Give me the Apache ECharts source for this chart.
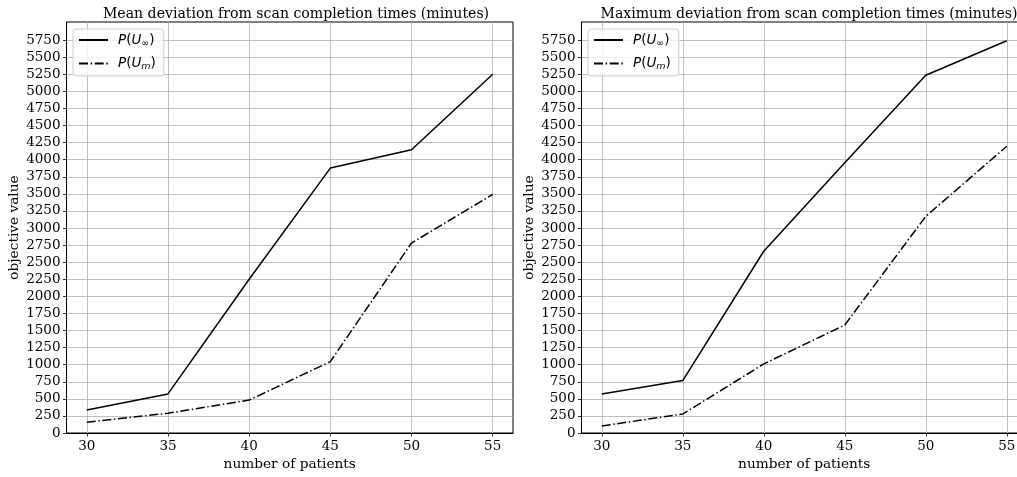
<!DOCTYPE html>
<html>
<head>
<meta charset="utf-8">
<script src="https://cdn.jsdelivr.net/npm/echarts@6/dist/echarts.min.js"></script>
<style>html,body{margin:0;padding:0;background:#fff}#c{width:1017px;height:477px}</style>
</head>
<body>
<div id="c"></div>
<script>
const patients = [30, 35, 40, 45, 50, 55];
const meanUinf = [337, 572, 2250, 3877, 4145, 5250];
const meanUm   = [157, 289, 482, 1045, 2780, 3492];
const maxUinf  = [571, 767, 2660, 3955, 5236, 5740];
const maxUm    = [103, 278, 1011, 1580, 3170, 4196];
const xTicks = [30, 35, 40, 45, 50, 55];
const yTicks = [0, 250, 500, 750, 1000, 1250, 1500, 1750, 2000, 2250, 2500, 2750, 3000, 3250, 3500, 3750, 4000, 4250, 4500, 4750, 5000, 5250, 5500, 5750];
const titles = ['Mean deviation from scan completion times (minutes)', 'Maximum deviation from scan completion times (minutes)'];
const xName = 'number of patients';
const yName = 'objective value';

const serif = 'DejaVu Serif';
const chart = echarts.init(document.getElementById('c'));

const grids = [
  {left: 66.5, width: 446.5, top: 22, bottom: 44},
  {left: 581.5, width: 445.5, top: 22, bottom: 44}
];
function pairs(ys) { return patients.map((x, i) => [x, ys[i]]); }

const rich = {
  i: {fontFamily: 'DejaVu Sans', fontStyle: 'italic', fontSize: 13.5, color: '#000'},
  n: {fontFamily: 'DejaVu Sans', fontSize: 13.5, color: '#000'},
  s: {fontFamily: 'DejaVu Sans', fontSize: 9.5, color: '#000', padding: [7, 0, 0, 0]},
  si: {fontFamily: 'DejaVu Sans', fontStyle: 'italic', fontSize: 9.5, color: '#000', padding: [7, 0, 0, 0]}
};
const labelFmt = {
  'P(U∞)': '{i|P}{n|(}{i|U}{s|∞}{n|)}',
  'P(Um)': '{i|P}{n|(}{i|U}{si|m}{n|)}'
};

const xAxes = [], yAxes = [], series = [], legends = [], titleArr = [];
grids.forEach((g, k) => {
  xAxes.push({
    type: 'value', gridIndex: k, min: 28.75, max: 56.25,
    name: xName, nameLocation: 'middle', nameGap: 23,
    nameTextStyle: {fontFamily: serif, fontSize: 13.7, color: '#000'},
    axisLine: {show: true, lineStyle: {color: '#000', width: 1}},
    axisTick: {show: true, inside: false, length: 3.5, customValues: xTicks, lineStyle: {color: '#000', width: 0.8}},
    axisLabel: {customValues: xTicks, fontFamily: serif, fontSize: 13.5, color: '#000', margin: 6, formatter: v => String(v)},
    splitLine: {show: true, lineStyle: {color: '#b0b0b0', width: 0.8}}
  });
  yAxes.push({
    type: 'value', gridIndex: k, min: 0, max: 6015,
    name: yName, nameLocation: 'middle', nameGap: 45, nameRotate: 90,
    nameTextStyle: {fontFamily: serif, fontSize: 13.7, color: '#000'},
    axisLine: {show: true, lineStyle: {color: '#000', width: 1}},
    axisTick: {show: true, inside: false, length: 3.5, customValues: yTicks, lineStyle: {color: '#000', width: 0.8}},
    axisLabel: {customValues: yTicks, fontFamily: serif, fontSize: 13.5, color: '#000', margin: 6, formatter: v => String(v)},
    splitLine: {show: true, lineStyle: {color: '#b0b0b0', width: 0.8}}
  });
  const a = k === 0 ? meanUinf : maxUinf;
  const b = k === 0 ? meanUm : maxUm;
  series.push({
    name: 'P(U∞)', type: 'line', xAxisIndex: k, yAxisIndex: k, data: pairs(a),
    symbol: 'none', lineStyle: {color: '#000', width: 1.5, type: 'solid'}, itemStyle: {color: '#000'}, z: 3
  });
  series.push({
    name: 'P(Um)', type: 'line', xAxisIndex: k, yAxisIndex: k, data: pairs(b),
    symbol: 'none', lineStyle: {color: '#000', width: 1.5, type: [9, 2.6, 1.5, 2.6]}, itemStyle: {color: '#000'}, z: 3
  });
  legends.push({
    left: g.left + 6.5, top: 29, orient: 'vertical',
    data: ['P(U∞)', 'P(Um)'],
    itemWidth: 29, itemHeight: 12, itemGap: 8,
    padding: [4, 8, 4, 5],
    itemStyle: {opacity: 0},
    backgroundColor: 'rgba(255,255,255,0.8)', borderColor: '#cccccc', borderWidth: 1, borderRadius: 3,
    formatter: n => labelFmt[n],
    textStyle: {rich: rich, padding: [0, 0, 0, 5]},
    selectedMode: false
  });
  titleArr.push({
    text: titles[k], left: (k === 0 ? 291 : 804), top: 2, textAlign: 'center',
    textStyle: {fontFamily: serif, fontSize: 14.1, fontWeight: 'normal', color: '#000'}
  });
});

chart.setOption({
  animation: false,
  title: titleArr,
  grid: grids.map(g => Object.assign({show: true, borderColor: '#000', borderWidth: 1, backgroundColor: 'transparent', containLabel: false, outerBoundsMode: 'none'}, g)),
  xAxis: xAxes, yAxis: yAxes, legend: legends, series: series
});
</script>
</body>
</html>
